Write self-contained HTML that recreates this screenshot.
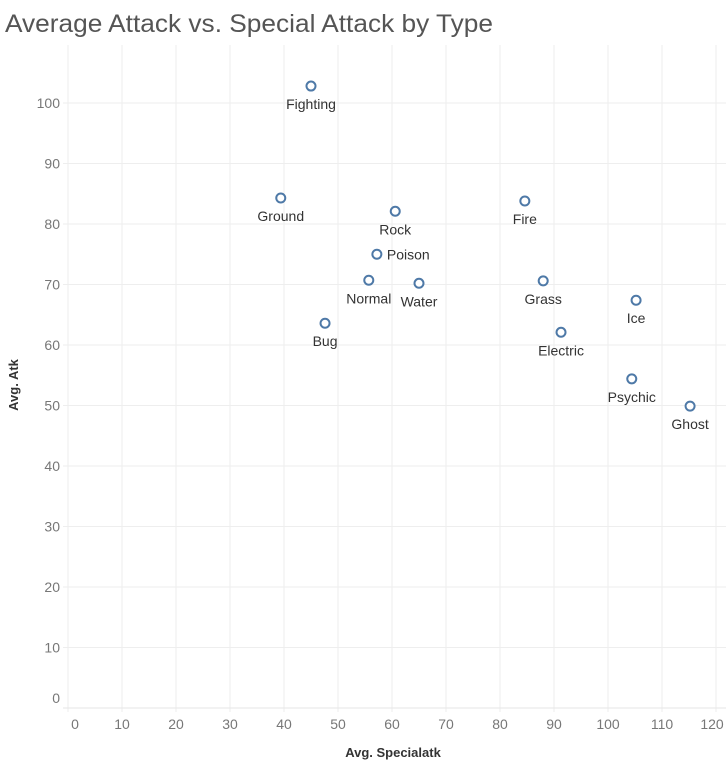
<!DOCTYPE html>
<html><head><meta charset="utf-8"><style>
body{margin:0;background:#fff;font-family:"Liberation Sans",sans-serif}
</style></head><body>
<svg width="726" height="771" id="chart">
<text x="5" y="32" font-size="25" fill="#555" textLength="488" lengthAdjust="spacingAndGlyphs">Average Attack vs. Special Attack by Type</text>
<g id="grid"></g><g id="axes"></g><g id="marks"></g>
<text x="18" y="385" font-size="13" font-weight="bold" fill="#333" text-anchor="middle" transform="rotate(-90 18 385)">Avg. Atk</text>
<text x="393" y="757" font-size="13" font-weight="bold" fill="#333" text-anchor="middle">Avg. Specialatk</text>
</svg>
<script>
const types=["Fighting","Ground","Rock","Fire","Poison","Normal","Water","Grass","Ice","Electric","Bug","Psychic","Ghost"];
const spAtk=[45.0,39.4,60.6,84.6,57.2,55.7,65.0,88.0,105.2,91.3,47.6,104.4,115.2];
const atk=[102.8,84.3,82.1,83.8,75.0,70.7,70.2,70.6,67.4,62.1,63.6,54.4,49.9];
const xTicks=[0,10,20,30,40,50,60,70,80,90,100,110,120];
const yTicks=[0,10,20,30,40,50,60,70,80,90,100];
const labelSide=["below","below","below","below","right","below","below","below","below","below","below","below","below"];
const NS="http://www.w3.org/2000/svg";
const xs=v=>68+5.4*v, ys=v=>708-6.05*v;
function mk(tag,attrs,parent,txt){const e=document.createElementNS(NS,tag);for(const k in attrs)e.setAttribute(k,attrs[k]);if(txt!=null)e.textContent=txt;parent.appendChild(e);return e;}
const grid=document.getElementById('grid'),axes=document.getElementById('axes'),marks=document.getElementById('marks');
xTicks.forEach((t,i)=>{
  const l=mk('line',{x1:xs(t),x2:xs(t),y1:45,y2:712,stroke:'#eeeeee'},grid);
  
  
  const off=t===0?7:(i===xTicks.length-1?-4:0);
  const tx=mk('text',{x:xs(t)+off,y:729,'font-size':14,fill:'#777','text-anchor':'middle'},axes,t);
  
  
});
yTicks.forEach(t=>{
  const l=mk('line',{x1:63,x2:726,y1:ys(t),y2:ys(t),stroke:'#eeeeee'},grid);
  
  
  const tx=mk('text',{x:60,y:(t===0?ys(t)-10:ys(t))+5,'font-size':14,fill:'#777','text-anchor':'end'},axes,t);
  
  
});
const ax=mk('line',{x1:63,x2:726,y1:708,y2:708,stroke:'#e6e6e6'},axes);


types.forEach((n,i)=>{
  const cx=xs(spAtk[i]),cy=ys(atk[i]);
  const c=mk('circle',{cx:cx,cy:cy,r:4.5,fill:'#fff',stroke:'#4e79a7','stroke-width':2},marks);
  
  
  const right=labelSide[i]==='right';
  const t=mk('text',{x:right?cx+10:cx,y:right?cy+5:cy+23,'font-size':14,fill:'#333','text-anchor':right?'start':'middle'},marks,n);
  
  
});
</script>
</body></html>
